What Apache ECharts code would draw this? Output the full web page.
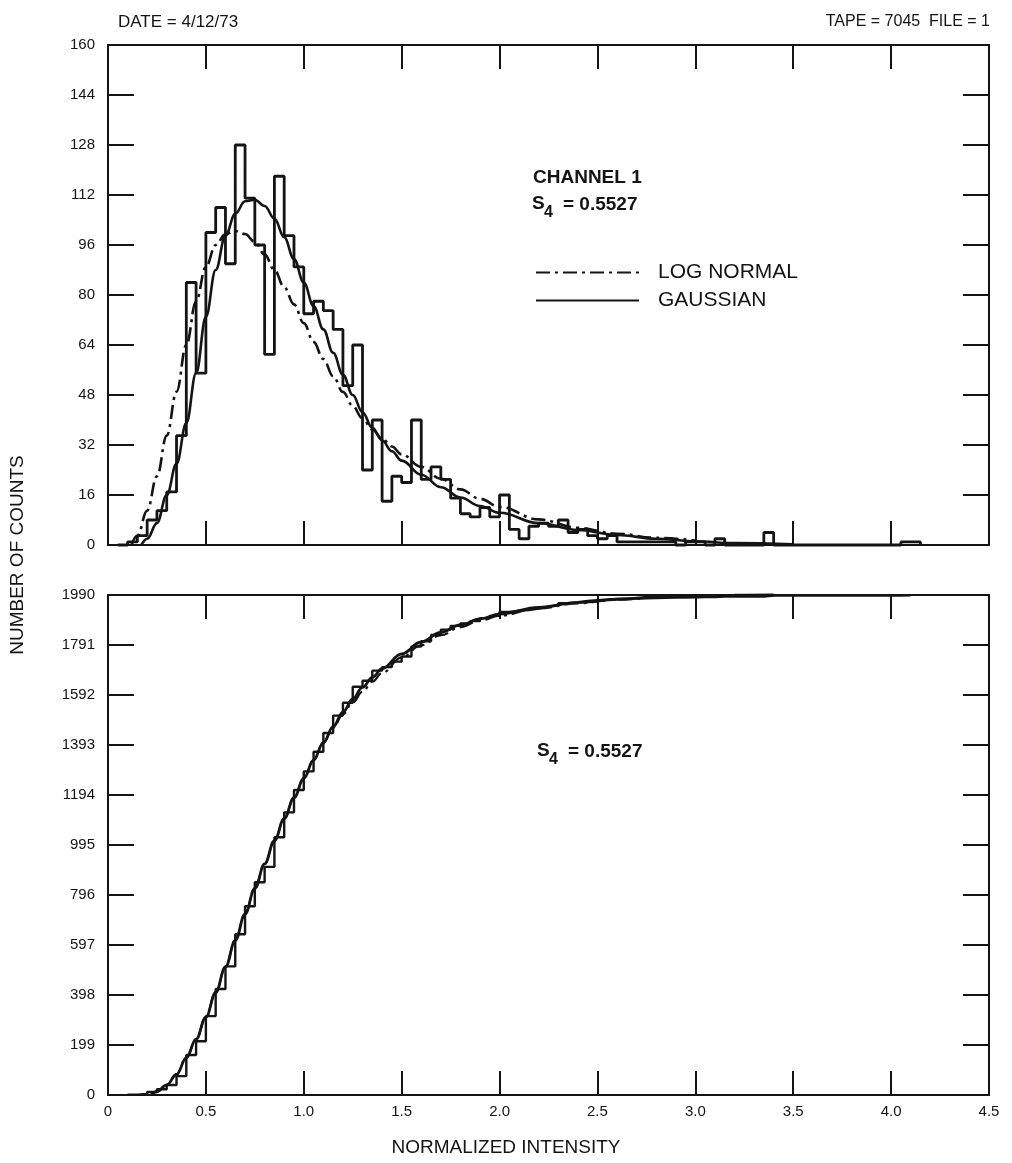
<!DOCTYPE html>
<html><head><meta charset="utf-8">
<script src="https://cdn.jsdelivr.net/npm/echarts@6/dist/echarts.min.js"></script>
<style>html,body{margin:0;padding:0;background:#fff}#c{width:1012px;height:1163px}</style>
</head><body><div id="c"></div>
<script>
// ---------- DATA ----------
const binStarts = [0.10,0.15,0.20,0.25,0.30,0.35,0.40,0.45,0.50,0.55,0.60,0.65,0.70,0.75,0.80,0.85,0.90,0.95,
  1.00,1.05,1.10,1.15,1.20,1.25,1.30,1.35,1.40,1.45,1.50,1.55,1.60,1.65,1.70,1.75,1.80,1.85,1.90,1.95,
  2.00,2.05,2.10,2.15,2.20,2.25,2.30,2.35,2.40,2.45,2.50,2.55,2.60,2.65,2.70,2.75,2.80,2.85,2.90,2.95,
  3.00,3.05,3.10,3.15,3.20,3.25,3.30,3.35,3.40,3.45,3.50,3.55,3.60,3.65,3.70,3.75,3.80,3.85,3.90,3.95,
  4.00,4.05,4.10];
const counts = [1,3,8,11,17,35,84,55,100,108,90,128,111,96,61,118,99,89,
  74,78,75,69,51,64,24,40,14,22,20,40,21,25,21,15,10,9,12,9,
  16,5,2,6,7,6,8,4,5,3,2,3,1,1,1,1,1,1,0,1,
  1,0,2,0,0,0,0,4,0,0,0,0,0,0,0,0,0,0,0,0,
  0,1,1];
const cumulative = [1,4,12,23,40,75,159,214,314,422,512,640,751,847,908,1026,1125,1214,
  1288,1366,1441,1510,1561,1625,1649,1689,1703,1725,1745,1785,1806,1831,1852,1867,1877,1886,1898,1907,
  1923,1928,1930,1936,1943,1949,1957,1961,1966,1969,1971,1974,1975,1976,1977,1978,1979,1980,1980,1981,
  1982,1982,1984,1984,1984,1984,1984,1988,1988,1988,1988,1988,1988,1988,1988,1988,1988,1988,1988,1988,
  1988,1989,1990];

const gaussX = [0.17,0.2,0.25,0.3,0.35,0.4,0.45,0.5,0.55,0.6,0.65,0.7,0.75,0.8,0.85,0.9,0.95,1.0,1.05,1.1,1.15,1.2,1.25,1.3,1.35,1.4,1.45,1.5,1.6,1.7,1.8,1.9,2.0,2.2,2.4,2.6,2.8,3.0,3.2,3.5];
const gaussY = [0,2,7,16,26,39,55,73,88,99,106,110,110.5,108.5,104.5,98.5,91.5,84,76.5,69,61.5,54.5,48,42.5,37.5,33.5,30,27,22.5,18.5,15.2,12.5,10.3,7,4.8,3.2,2,1.2,0.6,0.2];
const lnX = [0.12,0.15,0.2,0.25,0.3,0.35,0.4,0.45,0.5,0.55,0.6,0.65,0.7,0.75,0.8,0.85,0.9,0.95,1.0,1.05,1.1,1.15,1.2,1.25,1.3,1.35,1.4,1.45,1.5,1.6,1.7,1.8,1.9,2.0,2.2,2.4,2.6,2.8,3.0];
const lnY = [0,3,11,22,35,49,64,78,89,96,99.5,100.5,99.5,97,93,88,82.5,77,71,65,59.5,54,49,44.5,40.5,37,34,31.5,29,25,21.2,17.8,14.8,12.2,8.2,5.5,3.6,2.3,1.4];

const cdfX = [0.22,0.25,0.3,0.35,0.4,0.45,0.5,0.55,0.6,0.65,0.7,0.75,0.8,0.85,0.9,0.95,1.0,1.05,1.1,1.15,1.2,1.25,1.3,1.35,1.4,1.5,1.6,1.7,1.8,1.9,2.0,2.2,2.4,2.6,2.8,3.0,3.2,3.4];
const cdfY = [0,14,40,82,148,222,310,408,510,615,720,822,920,1012,1100,1183,1260,1333,1402,1466,1524,1576,1622,1662,1697,1756,1803,1841,1871,1895,1914,1941,1960,1973,1982,1987,1989,1990];
const lnCdfY = [0,14,40,82,148,222,310,408,510,615,720,822,920,1012,1100,1183,1260,1333,1402,1462,1515,1562,1605,1645,1680,1742,1790,1830,1862,1888,1908,1937,1957,1971,1980,1986,1988,1990];

const xTickLabels = ['0','0.5','1.0','1.5','2.0','2.5','3.0','3.5','4.0','4.5'];
const topYTickLabels = ['0','16','32','48','64','80','96','112','128','144','160'];
const bottomYTickLabels = ['0','199','398','597','796','995','1194','1393','1592','1791','1990'];

// ---------- CHART ----------
const INK = '#141414';
const FONT = "'Liberation Sans', Arial, sans-serif";
const chart = echarts.init(document.getElementById('c'), null, {renderer: 'canvas'});

function xAx(grid, pos, labels) {
  return {
    type: 'value', gridIndex: grid, position: pos, min: 0, max: 4.5, interval: 0.5,
    axisLine: {show: true, onZero: false, lineStyle: {color: INK, width: 2}},
    axisTick: {show: true, inside: true, length: 24, lineStyle: {color: INK, width: 2}},
    axisLabel: {show: labels, color: INK, fontSize: 15, fontFamily: FONT, margin: 9,
      formatter: v => xTickLabels[Math.round(v / 0.5)]},
    splitLine: {show: false}
  };
}
function yAx(grid, pos, max, interval, labels, tickLabels) {
  return {
    type: 'value', gridIndex: grid, position: pos, min: 0, max: max, interval: interval,
    axisLine: {show: true, onZero: false, lineStyle: {color: INK, width: 2}},
    axisTick: {show: true, inside: true, length: 26, lineStyle: {color: INK, width: 2}},
    axisLabel: {show: labels, color: INK, fontSize: 15, fontFamily: FONT, margin: 13,
      showMinLabel: true, showMaxLabel: true,
      formatter: v => tickLabels ? tickLabels[Math.round(v / interval)] : ''},
    splitLine: {show: false}
  };
}
const zip = (xs, ys) => xs.map((x, i) => [x, ys[i]]);
const histData = [[0.05, 0]].concat(zip(binStarts, counts)).concat([[4.15, 0]]);
const stairData = zip(binStarts, cumulative);
const DASHDOT = [14, 5, 3, 5];

const txt = (x, y, text, size, opts) => Object.assign({
  type: 'text', x: x, y: y,
  style: Object.assign({text: text, fill: INK, font: (opts && opts.bold ? 'bold ' : '') + size + 'px ' + FONT,
    textVerticalAlign: 'middle', textAlign: 'left'}, opts && opts.style)
}, opts && opts.extra);

chart.setOption({
  animation: false,
  backgroundColor: '#fff',
  grid: [
    {left: 108, top: 45, width: 881, height: 500},
    {left: 108, top: 595, width: 881, height: 500}
  ],
  xAxis: [xAx(0, 'bottom', false), xAx(0, 'top', false), xAx(1, 'bottom', true), xAx(1, 'top', false)],
  yAxis: [
    yAx(0, 'left', 160, 16, true, topYTickLabels), yAx(0, 'right', 160, 16, false, null),
    yAx(1, 'left', 1990, 199, true, bottomYTickLabels), yAx(1, 'right', 1990, 199, false, null)
  ],
  legend: {
    data: ['LOG NORMAL', 'GAUSSIAN'], orient: 'vertical', left: 530, top: 256,
    itemWidth: 103, itemHeight: 14, itemGap: 5, selectedMode: false,
    itemStyle: {opacity: 0, color: 'rgba(0,0,0,0)', borderColor: 'rgba(0,0,0,0)', borderWidth: 0},
    textStyle: {color: INK, fontSize: 21, fontFamily: FONT, padding: [0, 0, 0, 14], lineHeight: 23}
  },
  series: [
    {name: 'histogram', type: 'line', xAxisIndex: 0, yAxisIndex: 0, step: 'end', data: histData,
      symbol: 'none', clip: false, lineStyle: {color: INK, width: 2.8}, z: 3},
    {name: 'GAUSSIAN', type: 'line', xAxisIndex: 0, yAxisIndex: 0, data: zip(gaussX, gaussY), smooth: 0.4,
      smoothMonotone: 'x', symbol: 'none', clip: false, lineStyle: {color: INK, width: 2.6}, itemStyle: {color: INK}},
    {name: 'LOG NORMAL', type: 'line', xAxisIndex: 0, yAxisIndex: 0, data: zip(lnX, lnY), smooth: 0.4,
      smoothMonotone: 'x', symbol: 'none', clip: false, lineStyle: {color: INK, width: 2.6, type: DASHDOT}, itemStyle: {color: INK}},
    {name: 'cumulative', type: 'line', xAxisIndex: 2, yAxisIndex: 2, step: 'end', data: stairData,
      symbol: 'none', clip: false, lineStyle: {color: INK, width: 2.4}},
    {name: 'GAUSSIAN CDF', type: 'line', xAxisIndex: 2, yAxisIndex: 2, data: zip(cdfX, cdfY), smooth: 0.4,
      smoothMonotone: 'x', symbol: 'none', clip: false, lineStyle: {color: INK, width: 2.8}},
    {name: 'LOG NORMAL CDF', type: 'line', xAxisIndex: 2, yAxisIndex: 2, data: zip(cdfX, lnCdfY), smooth: 0.4,
      smoothMonotone: 'x', symbol: 'none', clip: false, lineStyle: {color: INK, width: 2.2, type: DASHDOT}}
  ],
  graphic: [
    txt(118, 22, 'DATE = 4/12/73', 17),
    txt(990, 22, 'TAPE = 7045  FILE = 1', 16, {style: {textAlign: 'right'}}),
    txt(533, 178, 'CHANNEL 1', 19, {bold: true}),
    txt(532, 204, 'S', 19, {bold: true}),
    txt(544, 213, '4', 16, {bold: true}),
    txt(563, 205, '= 0.5527', 19, {bold: true}),
    txt(537, 751, 'S', 19, {bold: true}),
    txt(549, 760, '4', 16, {bold: true}),
    txt(568, 752, '= 0.5527', 19, {bold: true}),
    txt(506, 1148, 'NORMALIZED INTENSITY', 19, {style: {textAlign: 'center'}}),
    txt(18, 555, 'NUMBER OF COUNTS', 19, {style: {textAlign: 'center'}, extra: {rotation: Math.PI / 2}})
  ]
});
</script></body></html>
